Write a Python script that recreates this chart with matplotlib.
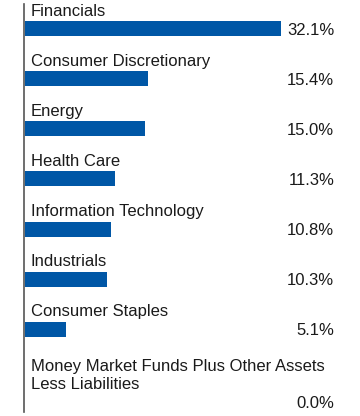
import matplotlib
matplotlib.use("Agg")
import matplotlib.pyplot as plt
import numpy as np

plt.rcParams["font.family"] = ["Liberation Sans", "DejaVu Sans"]

categories = ["Financials", "Consumer Discretionary", "Energy", "Health Care",
              "Information Technology", "Industrials", "Consumer Staples",
              "Money Market Funds Plus Other Assets\nLess Liabilities"]
values = [32.1, 15.4, 15.0, 11.3, 10.8, 10.3, 5.1, 0.0]
value_labels = ["32.1%", "15.4%", "15.0%", "11.3%", "10.8%", "10.3%", "5.1%", "0.0%"]

BAR = "#0057a6"
TXT = "#1a1a1a"

# slot positions: one unit per category, extra room for multi-line labels
extra = [0.45 * (c.count("\n")) for c in categories]
pos = np.cumsum([0.0] + [1.0 + e for e in extra[1:]])

fig = plt.figure(figsize=(3.6, 4.16), dpi=100)
ax = fig.add_axes([24 / 360, 4 / 416, 336 / 360, 408 / 416])
ax.barh(pos, values, height=0.3, left=0.12, color=BAR)
ax.set_ylim(pos[-1] + 0.2, -0.49)
ax.set_xlim(0, 42.1)

for y, name, lab in zip(pos, categories, value_labels):
    ax.text(0.85, y - 0.2, name, ha="left", va="bottom", fontsize=12, color=TXT,
            linespacing=1.25)
    ax.text(0.923, y + 0.03, lab, ha="right", va="center", fontsize=12, color=TXT,
            transform=ax.get_yaxis_transform())

for s in ["top", "right", "bottom"]:
    ax.spines[s].set_visible(False)
ax.spines["left"].set_color("#555555")
ax.spines["left"].set_linewidth(1.2)
ax.set_xticks([]); ax.set_yticks([])

fig.savefig("out.png", dpi=100)
